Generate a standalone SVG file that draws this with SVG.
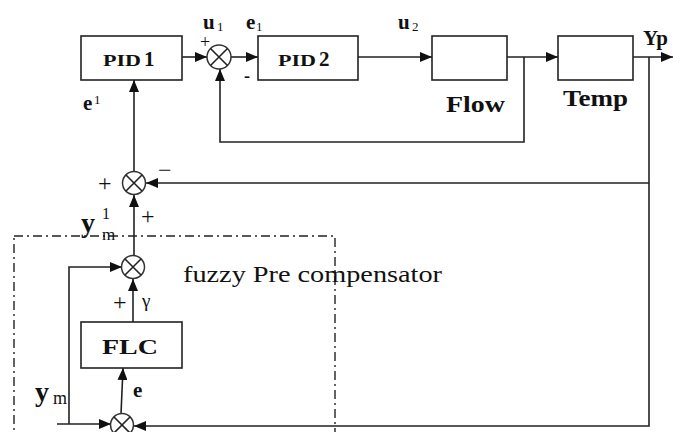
<svg xmlns="http://www.w3.org/2000/svg" width="673" height="432" viewBox="0 0 673 432">
<style>
.box{fill:#fff;stroke:#222;stroke-width:1.6}
.sum{fill:#fff;stroke:#333;stroke-width:1.5}
.ln{fill:none;stroke:#222;stroke-width:1.6}
text{font-family:"Liberation Serif","Times New Roman",serif;fill:#111}
.b{font-weight:bold}
</style>
<defs>
<marker id="ah" markerUnits="userSpaceOnUse" markerWidth="12" markerHeight="10" refX="12" refY="5" orient="auto">
<path d="M0,0 L12,5 L0,10 Z" fill="#111"/>
</marker>
</defs>
<rect width="673" height="432" fill="#fff"/>

<g id="connectors">
<line class="ln" x1="182" y1="57" x2="207" y2="57" marker-end="url(#ah)"/>
<line class="ln" x1="231" y1="57" x2="258" y2="57" marker-end="url(#ah)"/>
<line class="ln" x1="358" y1="57" x2="432" y2="57" marker-end="url(#ah)"/>
<line class="ln" x1="507" y1="57" x2="558" y2="57" marker-end="url(#ah)"/>
<line class="ln" x1="633" y1="57" x2="673" y2="57" marker-end="url(#ah)"/>
<polyline class="ln" points="524,57 524,142 220,142 220,69" marker-end="url(#ah)"/>
<polyline class="ln" points="649,57 649,426 134,426" marker-end="url(#ah)"/>
<line class="ln" x1="649" y1="183" x2="146" y2="183" marker-end="url(#ah)"/>
<line class="ln" x1="134" y1="172" x2="134" y2="80" marker-end="url(#ah)"/>
<line class="ln" x1="134" y1="256" x2="134" y2="195" marker-end="url(#ah)"/>
<polyline class="ln" points="69,424 69,267 122,267" marker-end="url(#ah)"/>
<line class="ln" x1="133" y1="322" x2="133" y2="279" marker-end="url(#ah)"/>
<line class="ln" x1="121" y1="414" x2="123" y2="368" marker-end="url(#ah)"/>
<line class="ln" x1="57" y1="424" x2="111" y2="424" marker-end="url(#ah)"/>
</g>

<g id="fuzzy-box">
<rect x="14" y="236" width="321" height="210" fill="none" stroke="#222" stroke-width="1.4" stroke-dasharray="9,4,2,4"/>
<text x="183" y="282" font-size="24" textLength="259" lengthAdjust="spacingAndGlyphs">fuzzy Pre compensator</text>
</g>

<g id="pid1">
<rect class="box" x="81" y="36" width="101" height="44"/>
<text class="b" x="103" y="66" font-size="17" textLength="38" lengthAdjust="spacingAndGlyphs">PID</text>
<text class="b" x="144" y="66" font-size="21">1</text>
</g>

<g id="sum1">
<circle class="sum" cx="219" cy="57" r="12"/>
<path class="ln" d="M210.5,48.5 L227.5,65.5 M227.5,48.5 L210.5,65.5" stroke-width="1.2"/>
</g>

<g id="pid2">
<rect class="box" x="258" y="36" width="100" height="44"/>
<text class="b" x="278" y="66" font-size="17" textLength="38" lengthAdjust="spacingAndGlyphs">PID</text>
<text class="b" x="319" y="66" font-size="21">2</text>
</g>

<g id="flow">
<rect class="box" x="432" y="36" width="75" height="44"/>
<text class="b" x="446" y="112" font-size="24" textLength="59" lengthAdjust="spacingAndGlyphs">Flow</text>
</g>

<g id="temp">
<rect class="box" x="558" y="36" width="75" height="44"/>
<text class="b" x="563" y="106" font-size="24" textLength="65" lengthAdjust="spacingAndGlyphs">Temp</text>
</g>

<g id="sum2">
<circle class="sum" cx="134" cy="183" r="11.5"/>
<path class="ln" d="M126,175 L142,191 M142,175 L126,191" stroke-width="1.2"/>
</g>

<g id="sum3">
<circle class="sum" cx="133" cy="267" r="11.5"/>
<path class="ln" d="M125,259 L141,275 M141,259 L125,275" stroke-width="1.2"/>
</g>

<g id="flc">
<rect class="box" x="81" y="322" width="101" height="46"/>
<text class="b" x="102" y="354" font-size="22" textLength="56" lengthAdjust="spacingAndGlyphs">FLC</text>
</g>

<g id="sum4">
<circle class="sum" cx="122" cy="425" r="11.5"/>
<path class="ln" d="M114,417 L130,433 M130,417 L114,433" stroke-width="1.2"/>
</g>

<g id="labels">
<text class="b" x="203" y="29" font-size="21">u</text>
<text x="217" y="31" font-size="13">1</text>
<text x="200" y="48" font-size="18">+</text>
<text class="b" x="246" y="29" font-size="21">e</text>
<text x="256" y="31" font-size="13">1</text>
<text class="b" x="244" y="82" font-size="18">-</text>
<text class="b" x="398" y="29" font-size="21">u</text>
<text x="412" y="31" font-size="13">2</text>
<text class="b" x="643" y="45" font-size="21">Yp</text>
<text class="b" x="83" y="110" font-size="21">e</text>
<text x="94" y="104" font-size="13">1</text>
<text x="98" y="191" font-size="24">+</text>
<text x="158" y="178" font-size="24">−</text>
<text class="b" x="81" y="232" font-size="28">y</text>
<text x="102" y="219" font-size="16">1</text>
<text x="102" y="240" font-size="17">m</text>
<text x="141" y="224" font-size="24">+</text>
<text x="113" y="310" font-size="24">+</text>
<text x="142" y="307" font-size="19">γ</text>
<text class="b" x="133" y="397" font-size="21">e</text>
<text class="b" x="35" y="401" font-size="28">y</text>
<text x="53" y="404" font-size="18">m</text>
</g>
</svg>
